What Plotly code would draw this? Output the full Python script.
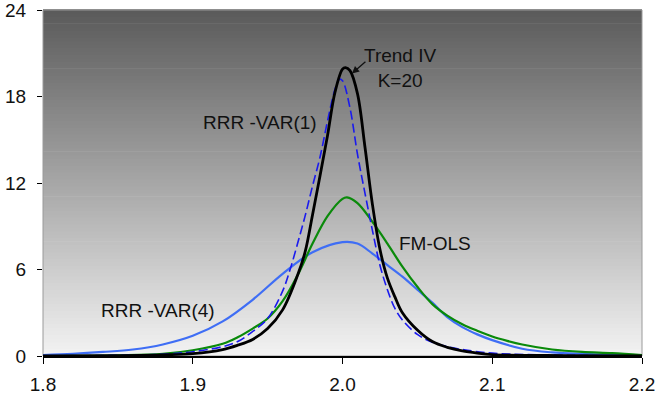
import plotly.graph_objects as go

# ---- data ----
x_var4 = [1.80, 1.82, 1.84, 1.86, 1.88, 1.90, 1.92, 1.94, 1.96, 1.98, 2.00, 2.01, 2.02, 2.03,
          2.04, 2.05, 2.06, 2.07, 2.08, 2.09, 2.10, 2.12, 2.14, 2.16, 2.18, 2.20]
y_var4 = [0.07, 0.15, 0.28, 0.45, 0.8, 1.4, 2.4, 3.9, 5.7, 7.2, 7.9, 7.8, 7.1, 6.3,
          5.5, 4.6, 3.7, 2.7, 2.0, 1.5, 1.1, 0.5, 0.25, 0.15, 0.1, 0.05]

x_fmols = [1.80, 1.85, 1.88, 1.90, 1.92, 1.93, 1.94, 1.95, 1.96, 1.97, 1.98, 1.99, 2.00, 2.003,
           2.01, 2.02, 2.03, 2.04, 2.05, 2.06, 2.07, 2.08, 2.09, 2.10, 2.11, 2.12, 2.14, 2.16,
           2.18, 2.20]
y_fmols = [0.0, 0.05, 0.15, 0.4, 0.85, 1.3, 1.9, 2.6, 3.8, 5.6, 7.8, 9.7, 10.9, 11.0,
           10.6, 9.3, 7.8, 6.2, 4.8, 3.6, 2.8, 2.2, 1.75, 1.35, 1.05, 0.8, 0.45, 0.28,
           0.2, 0.07]

x_var1 = [1.80, 1.85, 1.88, 1.90, 1.92, 1.93, 1.94, 1.95, 1.96, 1.965, 1.97, 1.975, 1.98, 1.985,
          1.99, 1.995, 1.998, 2.000, 2.005, 2.01, 2.015, 2.02, 2.025, 2.03, 2.035, 2.04, 2.05,
          2.06, 2.07, 2.08, 2.10, 2.15, 2.20]
y_var1 = [0.0, 0.05, 0.12, 0.3, 0.65, 1.0, 1.7, 2.6, 4.5, 6.0, 7.8, 9.7, 11.8, 13.8,
          16.3, 18.5, 19.2, 19.1, 17.2, 14.0, 11.3, 8.7, 6.3, 4.6, 3.3, 2.5, 1.5,
          0.95, 0.65, 0.45, 0.2, 0.05, 0.0]

x_trend = [1.80, 1.85, 1.88, 1.90, 1.92, 1.93, 1.94, 1.95, 1.96, 1.97, 1.975, 1.98, 1.985, 1.99,
           1.995, 2.000, 2.002, 2.005, 2.01, 2.015, 2.02, 2.025, 2.03, 2.035, 2.04, 2.05, 2.06,
           2.07, 2.08, 2.09, 2.10, 2.15, 2.20]
y_trend = [0.0, 0.03, 0.08, 0.17, 0.45, 0.75, 1.15, 1.9, 3.2, 5.6, 7.2, 9.8, 12.5, 15.3,
           18.3, 19.9, 20.0, 19.8, 18.2, 14.5, 10.5, 7.4, 5.4, 4.1, 3.0, 1.8, 1.0,
           0.6, 0.35, 0.2, 0.1, 0.03, 0.0]

x_ticks = [1.8, 1.9, 2.0, 2.1, 2.2]
x_tick_labels = ["1.8", "1.9", "2.0", "2.1", "2.2"]
y_ticks = [0, 6, 12, 18, 24]
y_tick_labels = ["0", "6", "12", "18", "24"]

FONT = "Liberation Sans, Arial, sans-serif"

fig = go.Figure()
fig.add_trace(go.Scatter(x=x_var4, y=y_var4, mode="lines", line=dict(color="#3f6ef5", width=2.2, shape="spline"),
                         name="RRR-VAR(4)"))
fig.add_trace(go.Scatter(x=x_fmols, y=y_fmols, mode="lines", line=dict(color="#0a8a0a", width=2.2, shape="spline"),
                         name="FM-OLS"))
fig.add_trace(go.Scatter(x=x_var1, y=y_var1, mode="lines",
                         line=dict(color="#1a1aee", width=1.6, dash="9px,4px", shape="spline"), name="RRR-VAR(1)"))
fig.add_trace(go.Scatter(x=x_trend, y=y_trend, mode="lines", line=dict(color="#000000", width=2.8, shape="spline"),
                         name="Trend IV"))

# background gradient (bands)
shapes = []
n = 100
top = (90, 90, 90)
bot = (243, 243, 243)
for i in range(n):
    f = (i + 0.5) / n
    c = tuple(int(round(bot[k] + (top[k] - bot[k]) * f)) for k in range(3))
    shapes.append(dict(type="rect", xref="paper", yref="paper", x0=0, x1=1, y0=i / n, y1=(i + 1) / n + 0.002,
                       fillcolor="rgb(%d,%d,%d)" % c, line=dict(width=0), layer="below"))
shapes.append(dict(type="rect", xref="paper", yref="paper", x0=0, x1=1, y0=0, y1=1,
                   line=dict(color="#9a9a9a", width=1), layer="below"))

AF = dict(size=19, color="#111", family=FONT)
annotations = [
    dict(x=1.945, y=16.2, text="RRR -VAR(1)", showarrow=False, xref="x", yref="y", font=AF),
    dict(x=2.0384, y=19.95, text="Trend IV<br>K=20", showarrow=False, xref="x", yref="y", font=AF),
    dict(x=2.0618, y=7.77, text="FM-OLS", showarrow=False, xref="x", yref="y", font=AF),
    dict(x=1.8768, y=3.19, text="RRR -VAR(4)", showarrow=False, xref="x", yref="y", font=AF),
    dict(x=2.0063, y=19.6, text="", showarrow=True, ax=15, ay=-13, xref="x", yref="y",
         arrowhead=2, arrowsize=1.1, arrowwidth=1.3, arrowcolor="#111"),
]

fig.update_layout(
    width=656, height=399,
    margin=dict(l=43, r=14, t=10, b=43),
    paper_bgcolor="white",
    plot_bgcolor="rgba(0,0,0,0)",
    showlegend=False,
    shapes=shapes,
    annotations=annotations,
    font=dict(family=FONT, size=19, color="#111"),
)
fig.update_xaxes(range=[1.8, 2.2], tickvals=x_ticks, ticktext=x_tick_labels, showgrid=False, zeroline=False,
                 showline=True, linecolor="black", linewidth=1.5, ticks="outside", ticklen=6, tickcolor="black",
                 tickfont=dict(size=19), ticklabelstandoff=4, automargin=False)
fig.update_yaxes(range=[0, 24.0005], tickvals=y_ticks, ticktext=y_tick_labels, showgrid=False, zeroline=False,
                 showline=False, ticks="outside", ticklen=5, tickcolor="black", tickfont=dict(size=19),
                 ticklabelstandoff=7, automargin=False, ticklabeloverflow="allow")

fig.write_html("out.html", config={"displayModeBar": False},
               post_script="document.body.style.margin='0';document.body.style.overflow='hidden';")
